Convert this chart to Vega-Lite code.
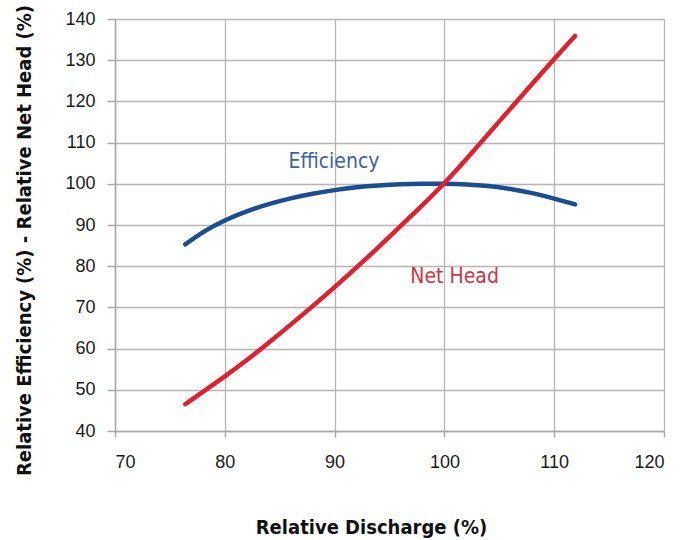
{
  "$schema": "https://vega.github.io/schema/vega-lite/v6.json",
  "width": 549,
  "height": 412,
  "autosize": {"type": "none"},
  "padding": {"left": 115, "top": 19, "right": 32, "bottom": 109},
  "background": "white",
  "config": {
    "view": {"stroke": null},
    "axis": {
      "gridColor": "#b4b4b4",
      "gridWidth": 1.3,
      "domainColor": "#a8a8a8",
      "domainWidth": 1.5,
      "tickColor": "#a8a8a8",
      "tickWidth": 1.5,
      "labelFont": "Liberation Sans",
      "labelFontSize": 18,
      "labelColor": "#1a1a1a",
      "titleFont": "Liberation Sans Narrow, DejaVu Sans Condensed, Arial Narrow, sans-serif",
      "titleFontWeight": "bold",
      "titleFontSize": 20,
      "titleColor": "#111111"
    }
  },
  "datasets": {
    "curves": [
      {"series": "Efficiency", "q": 76.4, "v": 85.3},
      {"series": "Efficiency", "q": 78, "v": 88.4},
      {"series": "Efficiency", "q": 80, "v": 91.2},
      {"series": "Efficiency", "q": 82, "v": 93.4},
      {"series": "Efficiency", "q": 84, "v": 95.1},
      {"series": "Efficiency", "q": 86, "v": 96.5},
      {"series": "Efficiency", "q": 88, "v": 97.6},
      {"series": "Efficiency", "q": 90, "v": 98.5},
      {"series": "Efficiency", "q": 92, "v": 99.2},
      {"series": "Efficiency", "q": 94, "v": 99.6},
      {"series": "Efficiency", "q": 96, "v": 99.9},
      {"series": "Efficiency", "q": 98, "v": 100.05},
      {"series": "Efficiency", "q": 100, "v": 100},
      {"series": "Efficiency", "q": 102, "v": 99.85},
      {"series": "Efficiency", "q": 104, "v": 99.5},
      {"series": "Efficiency", "q": 106, "v": 98.8},
      {"series": "Efficiency", "q": 108, "v": 97.8},
      {"series": "Efficiency", "q": 110, "v": 96.4},
      {"series": "Efficiency", "q": 111.9, "v": 95.0},
      {"series": "Net Head", "q": 76.4, "v": 46.5},
      {"series": "Net Head", "q": 78, "v": 49.5},
      {"series": "Net Head", "q": 80, "v": 53.2},
      {"series": "Net Head", "q": 82, "v": 57.2},
      {"series": "Net Head", "q": 84, "v": 61.4},
      {"series": "Net Head", "q": 86, "v": 65.8},
      {"series": "Net Head", "q": 88, "v": 70.3},
      {"series": "Net Head", "q": 90, "v": 74.9},
      {"series": "Net Head", "q": 92, "v": 79.7},
      {"series": "Net Head", "q": 94, "v": 84.6},
      {"series": "Net Head", "q": 96, "v": 89.7},
      {"series": "Net Head", "q": 98, "v": 94.8},
      {"series": "Net Head", "q": 100, "v": 100.1},
      {"series": "Net Head", "q": 102, "v": 106.0},
      {"series": "Net Head", "q": 104, "v": 112.1},
      {"series": "Net Head", "q": 106, "v": 118.2},
      {"series": "Net Head", "q": 108, "v": 124.3},
      {"series": "Net Head", "q": 110, "v": 130.3},
      {"series": "Net Head", "q": 111.9, "v": 135.9}
    ],
    "labels": [
      {"label": "Efficiency", "q": 85.8, "v": 103.8},
      {"label": "Net Head", "q": 96.9, "v": 75.9}
    ]
  },
  "layer": [
    {
      "data": {"name": "curves"},
      "mark": {"type": "line", "strokeWidth": 4.5, "interpolate": "basis", "strokeCap": "round"},
      "encoding": {
        "x": {
          "field": "q", "type": "quantitative",
          "scale": {"domain": [70, 120], "nice": false, "zero": false},
          "axis": {
            "title": "Relative Discharge (%)",
            "values": [70, 80, 90, 100, 110, 120],
            "tickSize": 6, "labelPadding": 16,
            "titleX": 256, "titleY": 96, "titleBaseline": "middle"
          }
        },
        "y": {
          "field": "v", "type": "quantitative",
          "scale": {"domain": [40, 140], "nice": false, "zero": false},
          "axis": {
            "title": "Relative Efficiency (%) - Relative Net Head (%)",
            "values": [40, 50, 60, 70, 80, 90, 100, 110, 120, 130, 140],
            "tickSize": 8, "labelPadding": 12,
            "titleX": -91, "titleY": 221, "titleBaseline": "middle"
          }
        },
        "color": {
          "field": "series", "type": "nominal",
          "scale": {"domain": ["Efficiency", "Net Head"], "range": ["#1b4d92", "#e11f2e"]},
          "legend": null
        }
      }
    },
    {
      "data": {"name": "labels"},
      "mark": {"type": "text", "align": "left", "baseline": "alphabetic", "fontSize": 21, "font": "Liberation Sans Narrow, DejaVu Sans Condensed, Arial Narrow, sans-serif"},
      "encoding": {
        "x": {"field": "q", "type": "quantitative"},
        "y": {"field": "v", "type": "quantitative"},
        "text": {"field": "label"},
        "color": {
          "field": "label", "type": "nominal",
          "scale": {"domain": ["Efficiency", "Net Head"], "range": ["#3d62a0", "#cf3445"]},
          "legend": null
        }
      }
    }
  ],
  "resolve": {"scale": {"color": "independent"}}
}
